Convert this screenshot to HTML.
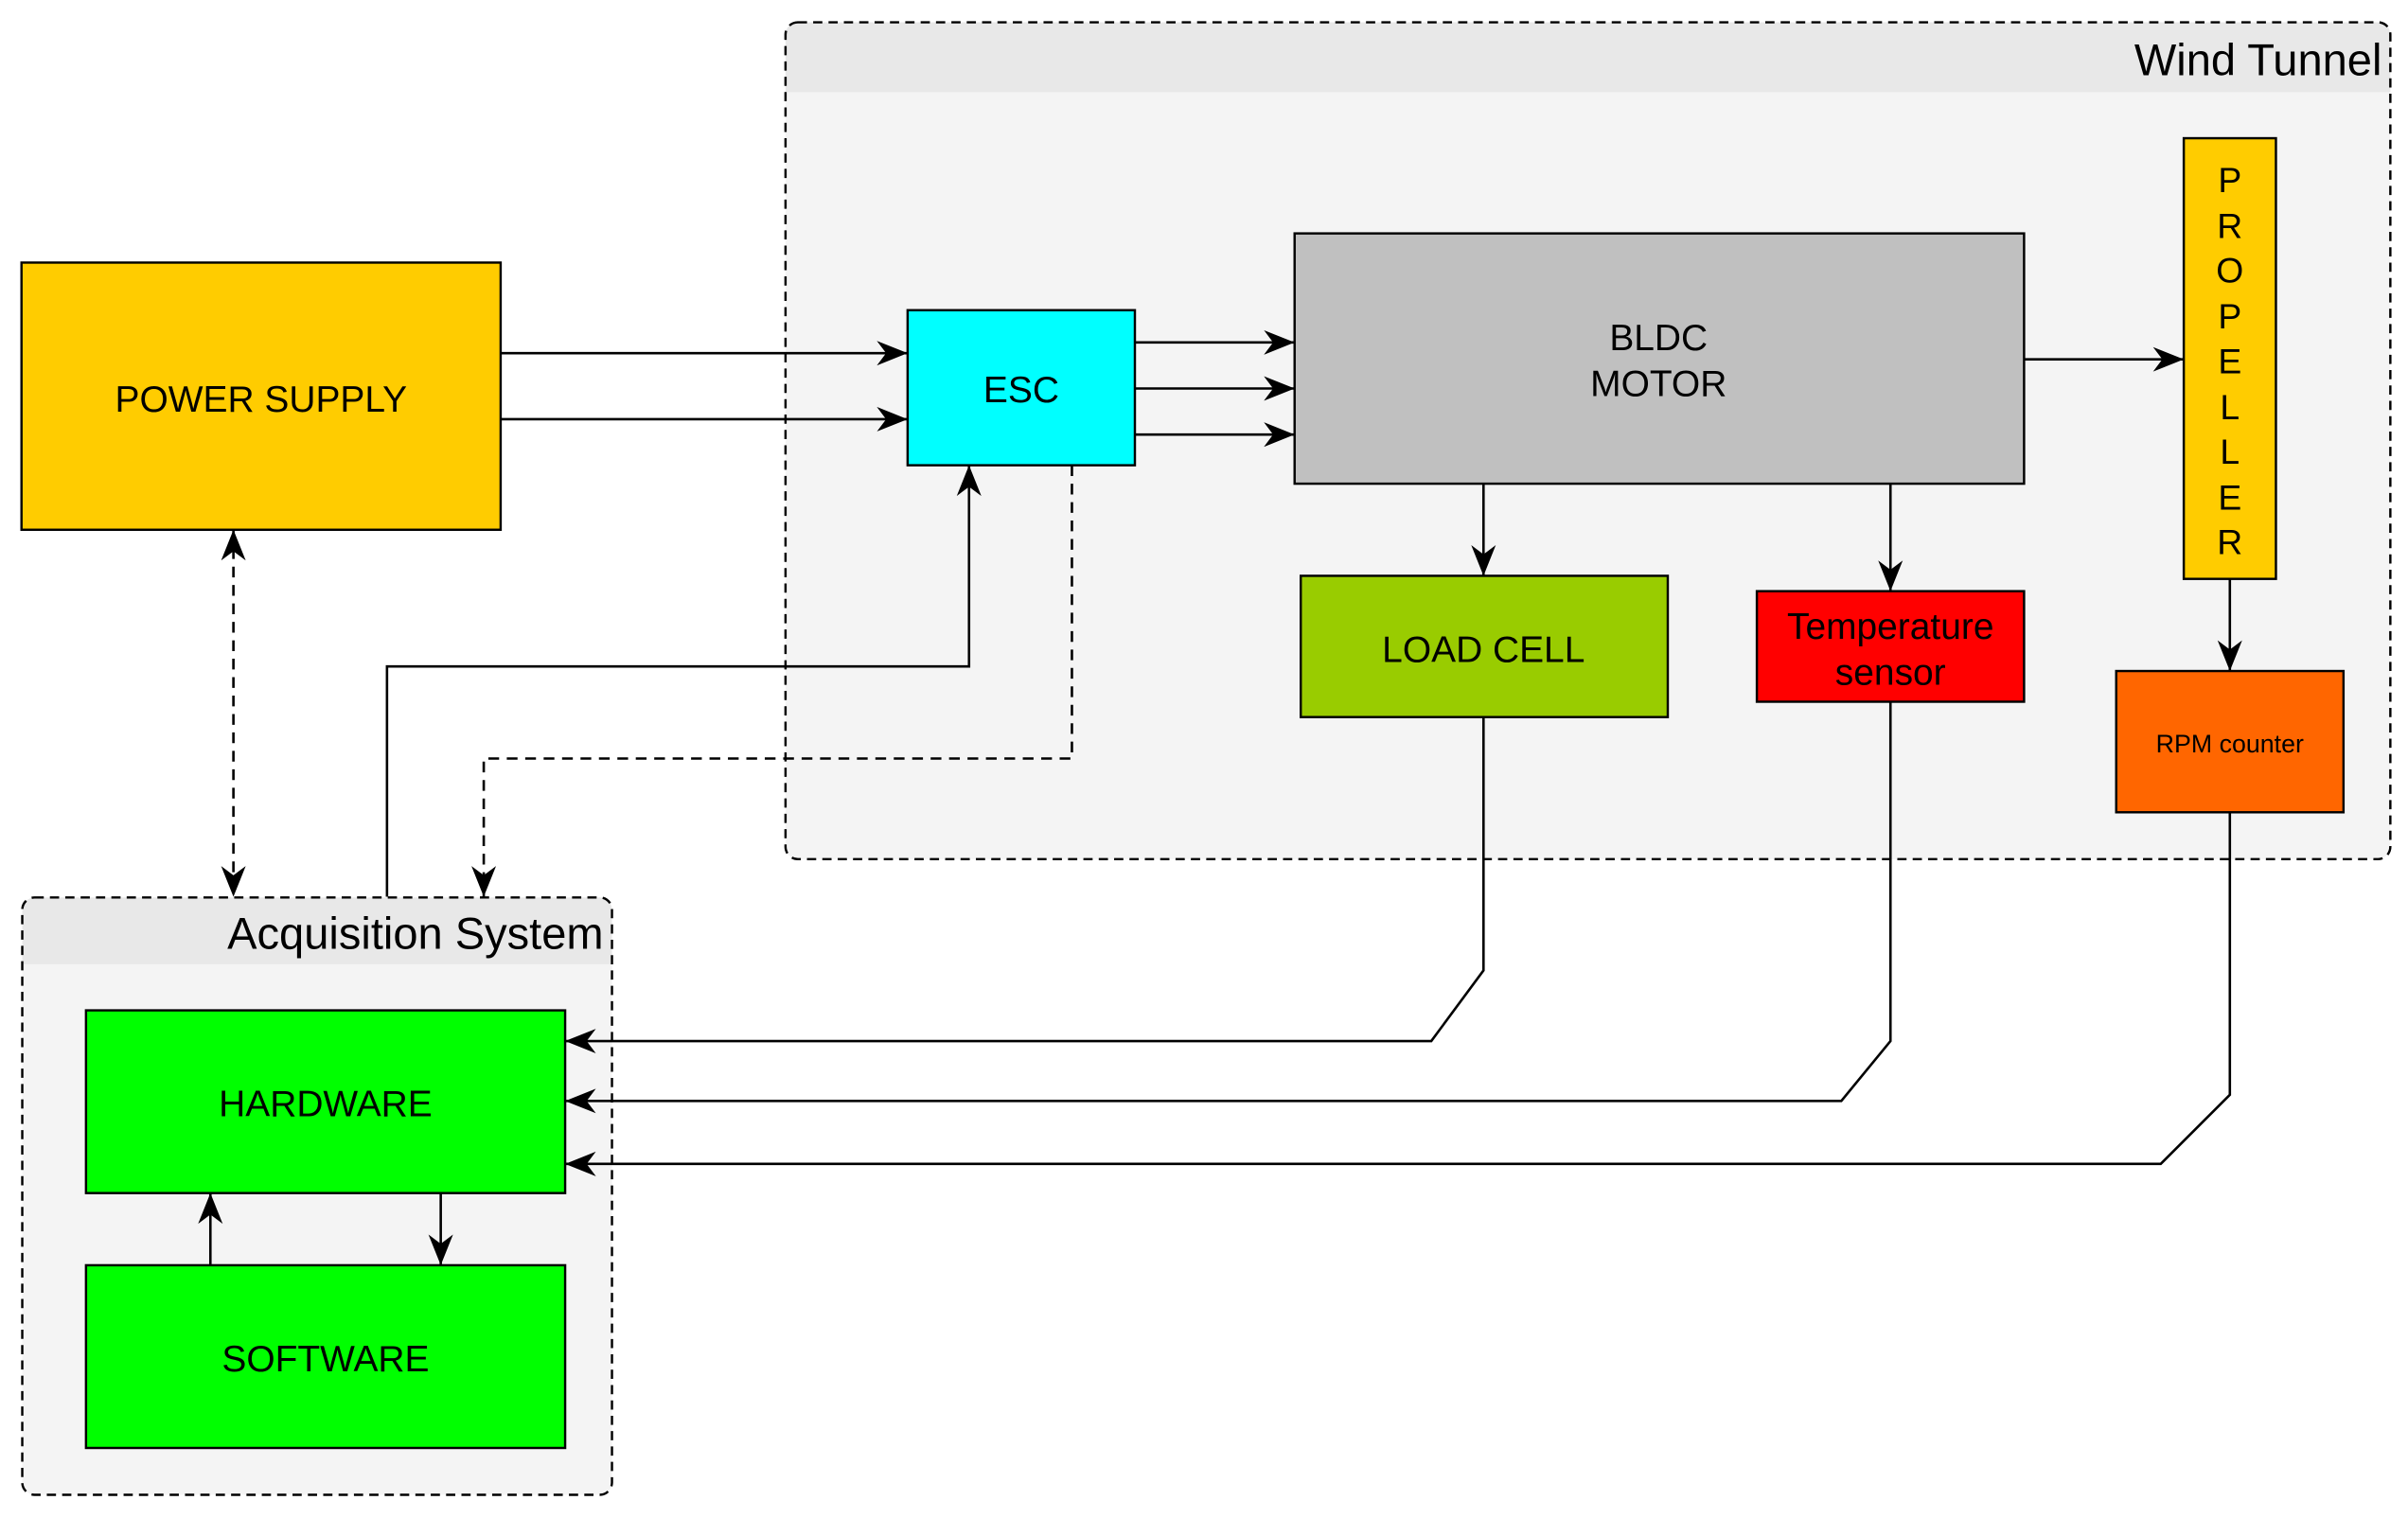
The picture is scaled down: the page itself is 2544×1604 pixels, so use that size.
<!DOCTYPE html>
<html><head><meta charset="utf-8"><style>
html,body{margin:0;padding:0;background:#fff;}
svg{display:block;}
text{font-family:"Liberation Sans",Arial,sans-serif;fill:#000;}
</style></head><body>
<svg width="2544" height="1604" viewBox="0 0 1568 988.6" xmlns="http://www.w3.org/2000/svg">
<defs>
<marker id="b" viewBox="0 0 10 10" refX="10" refY="5" markerWidth="20" markerHeight="20" markerUnits="userSpaceOnUse" orient="auto-start-reverse">
<path d="M0,1 L10,5 L0,9 L3,5 z" fill="#000"/>
</marker>
</defs>
<rect x="511.5" y="14.5" width="1045" height="545" rx="8" fill="#f4f4f4" stroke="none"/>
<path d="M511.5,60 V22.5 a8,8 0 0 1 8,-8 H1548.5 a8,8 0 0 1 8,8 V60 Z" fill="#e8e8e8"/>
<rect x="511.5" y="14.5" width="1045" height="545" rx="8" fill="none" stroke="#000" stroke-width="1.5" stroke-dasharray="6,4"/>
<text x="1551" y="49" font-size="29" text-anchor="end">Wind Tunnel</text>
<rect x="14.5" y="584.5" width="384" height="389" rx="8" fill="#f4f4f4"/>
<path d="M14.5,628 V592.5 a8,8 0 0 1 8,-8 H390.5 a8,8 0 0 1 8,8 V628 Z" fill="#e8e8e8"/>
<rect x="14.5" y="584.5" width="384" height="389" rx="8" fill="none" stroke="#000" stroke-width="1.5" stroke-dasharray="6,4"/>
<text x="393" y="618" font-size="29" text-anchor="end">Acquisition System</text>
<g stroke="#000" stroke-width="1.5">
<rect x="14" y="171" width="312" height="174" fill="#FFCC00"/>
<rect x="591" y="202" width="148" height="101" fill="#00FFFF"/>
<rect x="843" y="152" width="475" height="163" fill="#C0C0C0"/>
<rect x="1422" y="90" width="60" height="287" fill="#FFCC00"/>
<rect x="847" y="375" width="239" height="92" fill="#99CC00"/>
<rect x="1144" y="385" width="174" height="72" fill="#FF0000"/>
<rect x="1378" y="437" width="148" height="92" fill="#FF6600"/>
<rect x="56" y="658" width="312" height="119" fill="#00FF00"/>
<rect x="56" y="824" width="312" height="119" fill="#00FF00"/>
</g>
<g font-size="24" text-anchor="middle">
<text x="170" y="268">POWER SUPPLY</text>
<text x="665" y="262">ESC</text>
<text x="1080" y="228">BLDC</text>
<text x="1080" y="258">MOTOR</text>
<text x="966" y="431">LOAD CELL</text>
<text x="1231" y="416">Temperature</text>
<text x="1231" y="446">sensor</text>
<text x="1452" y="490" font-size="16.5">RPM counter</text>
<text x="212" y="727">HARDWARE</text>
<text x="212" y="893">SOFTWARE</text>
<g font-size="23">
<text x="1452" y="125">P</text><text x="1452" y="155">R</text><text x="1452" y="184">O</text>
<text x="1452" y="214">P</text><text x="1452" y="243">E</text><text x="1452" y="273">L</text>
<text x="1452" y="302">L</text><text x="1452" y="332">E</text><text x="1452" y="361">R</text>
</g>
</g>
<g stroke="#000" stroke-width="1.6" fill="none" marker-end="url(#b)">
<path d="M326,230 H591"/>
<path d="M326,273 H591"/>
<path d="M739,223 H843"/>
<path d="M739,253 H843"/>
<path d="M739,283 H843"/>
<path d="M1318,234 H1422"/>
<path d="M966,315 V375"/>
<path d="M1231,315 V385"/>
<path d="M1452,377 V437"/>
<path d="M252,584 V434 H631 V303"/>
<path d="M698,303 V494 H315 V584" stroke-dasharray="7,5"/>
<path d="M152,345 V584" stroke-dasharray="7,5" marker-start="url(#b)"/>
<path d="M966,467 V632 L932,678 H368"/>
<path d="M1231,457 V678 L1199,717 H368"/>
<path d="M1452,529 V713 L1407,758 H368"/>
<path d="M137,824 V777"/>
<path d="M287,777 V824"/>
</g>
</svg>
</body></html>
